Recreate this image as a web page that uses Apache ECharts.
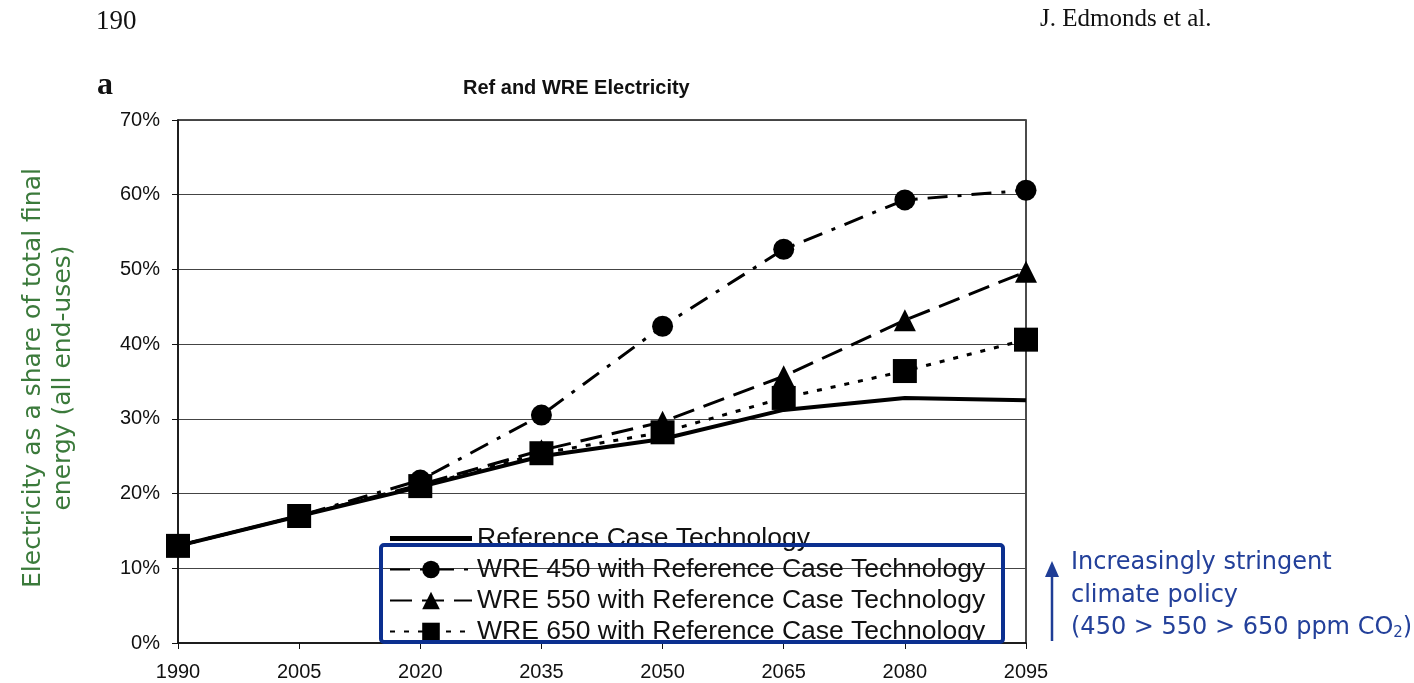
<!DOCTYPE html>
<html>
<head>
<meta charset="utf-8">
<script src="https://cdn.jsdelivr.net/npm/echarts@6/dist/echarts.min.js"></script>
<style>
  html, body { margin: 0; padding: 0; background: #fff; }
  #chart { width: 1414px; height: 683px; }
</style>
</head>
<body>
<div id="chart"></div>
<script>
// years on the x axis
const years = ["1990", "2005", "2020", "2035", "2050", "2065", "2080", "2095"];

// electricity share of final energy (fraction)
const refCase = [0.130, 0.170, 0.209, 0.250, 0.273, 0.312, 0.328, 0.325];
const wre450 = [0.130, 0.170, 0.218, 0.305, 0.424, 0.527, 0.593, 0.606];
const wre550 = [0.130, 0.170, 0.212, 0.258, 0.296, 0.357, 0.432, 0.497];
const wre650 = [0.130, 0.170, 0.210, 0.254, 0.282, 0.328, 0.364, 0.406];

const seriesNames = [
  "Reference Case Technology",
  "WRE 450 with Reference Case Technology",
  "WRE 550 with Reference Case Technology",
  "WRE 650 with Reference Case Technology",
];

const chart = echarts.init(document.getElementById("chart"));

const option = {
  animation: false,
  backgroundColor: "#fff",
  grid: {
    left: 178,
    right: 388,
    top: 120,
    bottom: 40,
    show: true,
    borderColor: "#111",
    borderWidth: 1.5,
  },
  legend: {
    orient: "vertical",
    left: 384,
    top: 518,
    itemWidth: 82,
    itemHeight: 22,
    itemGap: 0,
    // reference line has no marker, so give it a plain bar icon
    data: [
      { name: seriesNames[0], icon: "path://M0,0H86V5H0Z" },
      seriesNames[1],
      seriesNames[2],
      seriesNames[3],
    ],
    textStyle: {
      fontFamily: "Liberation Sans",
      fontSize: 26.5,
      lineHeight: 31,
      color: "#111",
    },
  },
  xAxis: {
    type: "category",
    data: years,
    boundaryGap: false,
    axisLine: { lineStyle: { color: "#111", width: 1.5 } },
    axisTick: { show: true, length: 6, lineStyle: { color: "#111" } },
    axisLabel: {
      fontFamily: "Liberation Sans",
      fontSize: 20,
      color: "#111",
      margin: 19,
    },
    splitLine: { show: false },
  },
  yAxis: {
    type: "value",
    min: 0,
    max: 0.7,
    interval: 0.1,
    axisLine: { show: true, lineStyle: { color: "#111", width: 1.5 } },
    axisTick: { show: true, length: 6, lineStyle: { color: "#111" } },
    axisLabel: {
      fontFamily: "Liberation Sans",
      fontSize: 20,
      color: "#111",
      margin: 18,
      formatter: (v) => Math.round(v * 100) + "%",
    },
    splitLine: { show: true, lineStyle: { color: "#444", width: 1 } },
  },
  series: [
    {
      name: seriesNames[0],
      type: "line",
      data: refCase,
      symbol: "none",
      lineStyle: { color: "#000", width: 4, type: "solid" },
      itemStyle: { color: "#000" },
      z: 2,
    },
    {
      name: seriesNames[1],
      type: "line",
      data: wre450,
      symbol: "circle",
      symbolSize: 21,
      lineStyle: { color: "#000", width: 3, type: [20, 10, 4, 10] },
      itemStyle: { color: "#000" },
      z: 3,
    },
    {
      name: seriesNames[2],
      type: "line",
      data: wre550,
      symbol: "triangle",
      symbolSize: 22,
      lineStyle: { color: "#000", width: 3, type: [22, 10] },
      itemStyle: { color: "#000" },
      z: 4,
    },
    {
      name: seriesNames[3],
      type: "line",
      data: wre650,
      symbol: "rect",
      symbolSize: 24,
      lineStyle: { color: "#000", width: 3, type: [5, 9] },
      itemStyle: { color: "#000" },
      z: 5,
    },
  ],
  graphic: [
    {
      type: "text",
      left: 96,
      top: 8,
      style: { text: "190", font: "27px 'Liberation Serif'", fill: "#111" },
    },
    {
      type: "text",
      left: 1040,
      top: 7,
      style: { text: "J. Edmonds et al.", font: "25px 'Liberation Serif'", fill: "#111" },
    },
    {
      type: "text",
      left: 97,
      top: 70,
      style: { text: "a", font: "bold 32px 'Liberation Serif'", fill: "#111" },
    },
    {
      type: "text",
      left: 463,
      top: 78,
      style: { text: "Ref and WRE Electricity", font: "bold 20px 'Liberation Sans'", fill: "#111" },
    },
    {
      type: "text",
      x: 48,
      y: 378,
      rotation: Math.PI / 2,
      style: {
        text: "Electricity as a share of total final\nenergy (all end-uses)",
        font: "25px 'DejaVu Sans'",
        fill: "#3b7a3b",
        align: "center",
        verticalAlign: "middle",
        lineHeight: 30,
      },
    },
    {
      type: "rect",
      shape: { x: 381, y: 545, width: 622, height: 97, r: 3 },
      style: { fill: "none", stroke: "#0b2f8f", lineWidth: 4 },
      z: 100,
    },
    {
      type: "line",
      shape: { x1: 1052, y1: 641, x2: 1052, y2: 574 },
      style: { stroke: "#1f3d96", lineWidth: 2.5 },
    },
    {
      type: "polygon",
      shape: { points: [[1045, 577], [1059, 577], [1052, 561]] },
      style: { fill: "#1f3d96" },
    },
    {
      type: "text",
      left: 1071,
      top: 547,
      style: {
        text: "Increasingly stringent\nclimate policy\n(450 > 550 > 650 ppm CO{s|2})",
        font: "24px 'DejaVu Sans'",
        fill: "#23409a",
        lineHeight: 32.5,
        rich: {
          s: { fontSize: 15, fontFamily: "DejaVu Sans", fill: "#23409a", padding: [10, 0, 0, 0] },
        },
      },
    },
  ],
};

chart.setOption(option);
</script>
</body>
</html>
